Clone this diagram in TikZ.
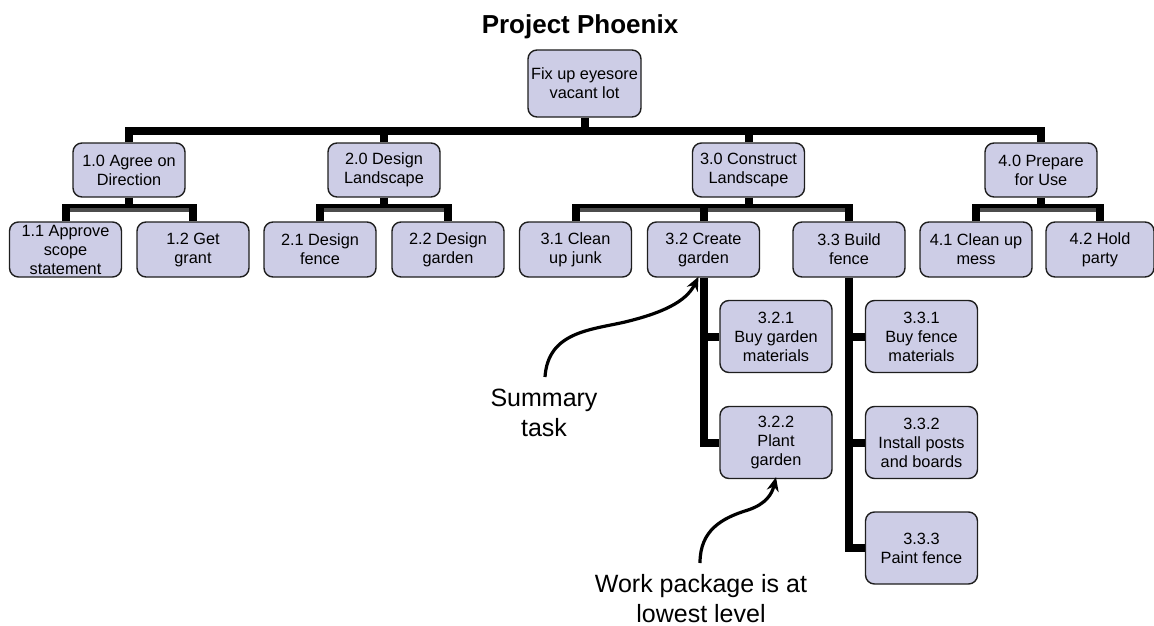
\documentclass[tikz,border=0pt]{standalone}
\usepackage{fontspec}
\setmainfont{Liberation Sans}
\usetikzlibrary{arrows.meta}
\definecolor{boxfill}{RGB}{205,205,230}
\definecolor{boxline}{RGB}{30,30,30}
\begin{document}
\begin{tikzpicture}[x=1pt,y=-1pt,
  wbs/.style={draw=boxline, line width=1.4pt, fill=boxfill, rounded corners=9pt,
    align=center, inner sep=0pt, minimum width=112pt,
    font=\fontsize{16.3}{19}\selectfont},
  lvl0/.style={wbs, minimum width=113pt, minimum height=67pt},
  lvl1/.style={wbs, minimum height=54pt},
  lvl2/.style={wbs, minimum height=55pt},
  lvl3/.style={wbs, minimum height=72pt},
  conn/.style={line width=8pt, black, line join=miter},
  shade/.style={line width=3.5pt, black!70},
  note/.style={align=center, font=\fontsize{25}{30}\selectfont},
  callout/.style={line width=3.2pt, -{Stealth[length=14pt,width=12pt]}}
]
\useasboundingbox (0,0) rectangle (1154,626);

\node[font=\bfseries\fontsize{26}{28}\selectfont, anchor=base] (title) at (580,34) {Project Phoenix};

\node[lvl0] (root) at (584.5,83.5) {Fix up eyesore\\vacant lot};

\node[lvl1] (n10) at (129,170) {1.0 Agree on\\Direction};
\node[lvl1] (n20) at (384,170) {2.0 Design\\Landscape};
\node[lvl1] (n30) at (748.5,170) {3.0 Construct\\Landscape};
\node[lvl1] (n40) at (1041,170) {4.0 Prepare\\for Use};

\node[lvl2] (n11) at (65.5,249.5) {1.1 Approve\\scope\\statement};
\node[lvl2] (n12) at (193,249.5) {1.2 Get\\grant};
\node[lvl2] (n21) at (320,249.5) {2.1 Design\\fence};
\node[lvl2] (n22) at (448,249.5) {2.2 Design\\garden};
\node[lvl2] (n31) at (575.5,249.5) {3.1 Clean\\up junk};
\node[lvl2] (n32) at (703.5,249.5) {3.2 Create\\garden};
\node[lvl2] (n33) at (849,249.5) {3.3 Build\\fence};
\node[lvl2] (n41) at (976,249.5) {4.1 Clean up\\mess};
\node[lvl2, minimum width=108pt] (n42) at (1100,249.5) {4.2 Hold\\party};

\node[lvl3] (n321) at (776,336.5) {3.2.1\\Buy garden\\materials};
\node[lvl3] (n322) at (776,442.5) {3.2.2\\Plant\\garden};
\node[lvl3] (n331) at (921.5,336.5) {3.3.1\\Buy fence\\materials};
\node[lvl3] (n332) at (921.5,442.5) {3.3.2\\Install posts\\and boards};
\node[lvl3] (n333) at (921.5,548) {3.3.3\\Paint fence};

\coordinate (bus) at (0,131);
\coordinate (sb) at (0,208);

% level 0 -> level 1
\draw[conn] (root.south) -- (root.south |- bus);
\draw[conn] (n10.north) -- (n10.north |- bus) -| (n40.north);
\draw[conn] (n20.north) -- (n20.north |- bus);
\draw[conn] (n30.north) -- (n30.north |- bus);

% level 1 -> level 2
\draw[conn] (n10.south) -- (n10.south |- sb);
\draw[conn] (n11.north) -- (n11.north |- sb) -| (n12.north);
\draw[shade] ([xshift=4pt]n11.north |- 0,210) -- ([xshift=-4pt]n12.north |- 0,210);
\draw[conn] (n20.south) -- (n20.south |- sb);
\draw[conn] (n21.north) -- (n21.north |- sb) -| (n22.north);
\draw[shade] ([xshift=4pt]n21.north |- 0,210) -- ([xshift=-4pt]n22.north |- 0,210);
\draw[conn] (n30.south) -- (n30.south |- sb);
\draw[conn] (n31.north) -- (n31.north |- sb) -| (n33.north);
\draw[shade] ([xshift=4pt]n31.north |- 0,210) -- ([xshift=-4pt]n33.north |- 0,210);
\draw[conn] (n32.north) -- (n32.north |- sb);
\draw[conn] (n40.south) -- (n40.south |- sb);
\draw[conn] (n41.north) -- (n41.north |- sb) -| (n42.north);
\draw[shade] ([xshift=4pt]n41.north |- 0,210) -- ([xshift=-4pt]n42.north |- 0,210);

% level 2 -> level 3
\draw[conn] (n32.south) |- (n322.west);
\draw[conn] (n32.south |- n321.west) -- (n321.west);
\draw[conn] (n33.south) |- (n333.west);
\draw[conn] (n33.south |- n331.west) -- (n331.west);
\draw[conn] (n33.south |- n332.west) -- (n332.west);

% annotations
\node[note] (summary) at (544,413) {Summary\\task};
\node[note] (workpkg) at (701,599) {Work package is at\\lowest level};

\coordinate (s1) at (545,377);
\coordinate (w1) at (700,563);
\draw[callout] (s1) .. controls (548,332) and (590,330) .. (625,322)
  .. controls (662,313) and (686,302) .. ([xshift=-5pt,yshift=1pt]n32.south);
\draw[callout] (w1) .. controls (700,530) and (722,518) .. (748,510)
  .. controls (766,504) and (772,494) .. ([yshift=2pt]n322.south);
\end{tikzpicture}
\end{document}
